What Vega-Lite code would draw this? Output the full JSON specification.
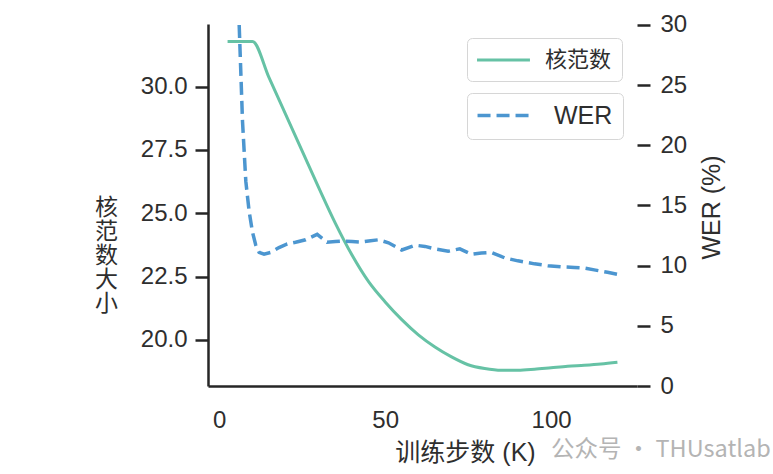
{
  "$schema": "https://vega.github.io/schema/vega-lite/v6.json",
  "width": 429,
  "height": 362,
  "autosize": {"type": "none"},
  "padding": {"left": 208, "top": 24, "right": 136, "bottom": 88},
  "background": "white",
  "title": {
    "text": "公众号 · THUsatlab",
    "orient": "bottom",
    "anchor": "start",
    "frame": "group",
    "dx": 343,
    "dy": -31,
    "fontSize": 23.5,
    "fontWeight": "normal",
    "color": "#b4b4b4",
    "font": "Noto Sans CJK SC"
  },
  "config": {
    "view": {"stroke": null},
    "font": "Liberation Sans, Noto Sans CJK SC, sans-serif",
    "axis": {
      "labelFont": "Liberation Sans, Noto Sans CJK SC, sans-serif",
      "titleFont": "Liberation Sans, Noto Sans CJK SC, sans-serif",
      "labelFontSize": 24,
      "titleFontSize": 25,
      "titleFontWeight": "normal",
      "labelColor": "#2e2e2e",
      "titleColor": "#2e2e2e",
      "domainColor": "#262626",
      "tickColor": "#262626",
      "grid": false
    },
    "legend": {
      "labelFont": "Liberation Sans, Noto Sans CJK SC, sans-serif",
      "labelColor": "#2e2e2e",
      "strokeColor": "#d6d6d6",
      "fillColor": "#ffffff",
      "cornerRadius": 5,
      "padding": 10
    }
  },
  "datasets": {
    "norm": [
      {"step": 2.5, "value": 31.78, "series": "核范数"},
      {"step": 5, "value": 31.78, "series": "核范数"},
      {"step": 7.5, "value": 31.78, "series": "核范数"},
      {"step": 10, "value": 31.78, "series": "核范数"},
      {"step": 15, "value": 30.35, "series": "核范数"},
      {"step": 20, "value": 28.9, "series": "核范数"},
      {"step": 25, "value": 27.45, "series": "核范数"},
      {"step": 30, "value": 26.0, "series": "核范数"},
      {"step": 35, "value": 24.6, "series": "核范数"},
      {"step": 40, "value": 23.35, "series": "核范数"},
      {"step": 45, "value": 22.3, "series": "核范数"},
      {"step": 50, "value": 21.5, "series": "核范数"},
      {"step": 55, "value": 20.8, "series": "核范数"},
      {"step": 60, "value": 20.2, "series": "核范数"},
      {"step": 65, "value": 19.72, "series": "核范数"},
      {"step": 70, "value": 19.33, "series": "核范数"},
      {"step": 75, "value": 19.02, "series": "核范数"},
      {"step": 80, "value": 18.87, "series": "核范数"},
      {"step": 85, "value": 18.8, "series": "核范数"},
      {"step": 90, "value": 18.8, "series": "核范数"},
      {"step": 95, "value": 18.84, "series": "核范数"},
      {"step": 100, "value": 18.9, "series": "核范数"},
      {"step": 105, "value": 18.96, "series": "核范数"},
      {"step": 110, "value": 19.0, "series": "核范数"},
      {"step": 115, "value": 19.05, "series": "核范数"},
      {"step": 120, "value": 19.12, "series": "核范数"}
    ],
    "wer": [
      {"step": 6, "value": 30, "series": "WER"},
      {"step": 7, "value": 22, "series": "WER"},
      {"step": 8, "value": 17, "series": "WER"},
      {"step": 9, "value": 14.5, "series": "WER"},
      {"step": 10, "value": 12.8, "series": "WER"},
      {"step": 11, "value": 11.7, "series": "WER"},
      {"step": 12, "value": 11.1, "series": "WER"},
      {"step": 13.5, "value": 10.95, "series": "WER"},
      {"step": 15.5, "value": 11.1, "series": "WER"},
      {"step": 18, "value": 11.5, "series": "WER"},
      {"step": 20.5, "value": 11.8, "series": "WER"},
      {"step": 23, "value": 11.95, "series": "WER"},
      {"step": 26, "value": 12.15, "series": "WER"},
      {"step": 29.5, "value": 12.6, "series": "WER"},
      {"step": 32.5, "value": 11.95, "series": "WER"},
      {"step": 35, "value": 12.0, "series": "WER"},
      {"step": 37.5, "value": 12.05, "series": "WER"},
      {"step": 40, "value": 12.0, "series": "WER"},
      {"step": 42.5, "value": 11.96, "series": "WER"},
      {"step": 45, "value": 12.05, "series": "WER"},
      {"step": 48, "value": 12.15, "series": "WER"},
      {"step": 51, "value": 11.9, "series": "WER"},
      {"step": 55, "value": 11.3, "series": "WER"},
      {"step": 59, "value": 11.7, "series": "WER"},
      {"step": 62, "value": 11.6, "series": "WER"},
      {"step": 65, "value": 11.4, "series": "WER"},
      {"step": 69, "value": 11.2, "series": "WER"},
      {"step": 72.5, "value": 11.4, "series": "WER"},
      {"step": 76, "value": 10.95, "series": "WER"},
      {"step": 79, "value": 11.05, "series": "WER"},
      {"step": 82, "value": 11.1, "series": "WER"},
      {"step": 86, "value": 10.65, "series": "WER"},
      {"step": 90, "value": 10.4, "series": "WER"},
      {"step": 95, "value": 10.15, "series": "WER"},
      {"step": 99, "value": 10.0, "series": "WER"},
      {"step": 103, "value": 9.9, "series": "WER"},
      {"step": 107, "value": 9.85, "series": "WER"},
      {"step": 110, "value": 9.8, "series": "WER"},
      {"step": 113, "value": 9.65, "series": "WER"},
      {"step": 117, "value": 9.45, "series": "WER"},
      {"step": 120, "value": 9.28, "series": "WER"}
    ]
  },
  "layer": [
    {
      "data": {"name": "norm"},
      "mark": {"type": "line", "strokeWidth": 3, "clip": true, "interpolate": "monotone"},
      "encoding": {
        "x": {
          "field": "step",
          "type": "quantitative",
          "scale": {"domain": [-3.4, 125.9], "nice": false, "zero": false},
          "axis": {
            "title": "训练步数 (K)",
            "values": [0, 50, 100],
            "ticks": false,
            "tickSize": 0,
            "labelPadding": 22,
            "domainWidth": 2.5,
            "titlePadding": 8,
            "titleX": 257
          }
        },
        "y": {
          "field": "value",
          "type": "quantitative",
          "scale": {"domain": [18.18, 32.47], "nice": false, "zero": false},
          "axis": {
            "orient": "left",
            "title": ["核", "范", "数", "大", "小"],
            "values": [20, 22.5, 25, 27.5, 30],
            "format": ".1f",
            "tickSize": 13,
            "tickWidth": 2.5,
            "domainWidth": 2.5,
            "labelPadding": 8,
            "titleAngle": 0,
            "titleAlign": "center",
            "titleBaseline": "middle",
            "titleFontSize": 23,
            "titleLineHeight": 24,
            "titleX": -102,
            "titleY": 183
          }
        },
        "color": {
          "field": "series",
          "type": "nominal",
          "scale": {"domain": ["核范数"], "range": ["#66c2a5"]},
          "legend": {
            "title": null,
            "orient": "none",
            "legendX": 259,
            "legendY": 14,
            "symbolType": "M-1.14,0H3.9",
            "symbolSize": 441,
            "symbolStrokeWidth": 3,
            "labelFontSize": 22,
            "labelOffset": 44
          }
        }
      }
    },
    {
      "data": {"name": "wer"},
      "mark": {"type": "line", "strokeWidth": 3.5, "strokeDash": [13, 6], "clip": true},
      "encoding": {
        "x": {"field": "step", "type": "quantitative"},
        "y": {
          "field": "value",
          "type": "quantitative",
          "scale": {"domain": [0, 30.08], "nice": false, "zero": false},
          "axis": {
            "orient": "right",
            "title": "WER (%)",
            "values": [0, 5, 10, 15, 20, 25, 30],
            "domain": false,
            "tickSize": 13,
            "tickWidth": 2.5,
            "labelPadding": 10,
            "titleAngle": -90,
            "titleAlign": "center",
            "titleBaseline": "middle",
            "titleX": 74,
            "titleY": 183
          }
        },
        "color": {
          "field": "series",
          "type": "nominal",
          "scale": {"domain": ["WER"], "range": ["#4c96d0"]},
          "legend": {
            "title": null,
            "orient": "none",
            "legendX": 259,
            "legendY": 69,
            "symbolType": "M-1.14,0H3.9",
            "symbolSize": 441,
            "symbolStrokeWidth": 3.5,
            "symbolDash": [13, 6],
            "labelFontSize": 25,
            "labelOffset": 52
          }
        }
      }
    }
  ],
  "resolve": {
    "scale": {"y": "independent", "color": "independent"},
    "axis": {"y": "independent"},
    "legend": {"color": "independent"}
  }
}
